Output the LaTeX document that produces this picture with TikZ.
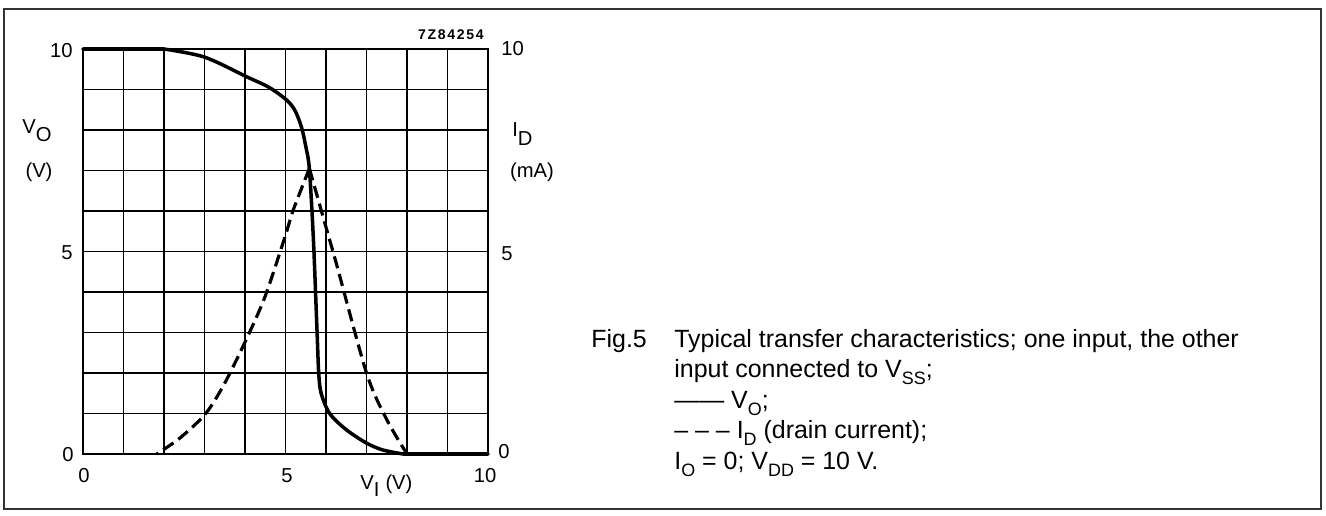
\documentclass[tikz,border=0pt]{standalone}
\usepackage{fontspec}
\setmainfont{Liberation Sans}
\newcommand\capsub[1]{\raisebox{-0.3em}{\fontsize{10.2}{10.2}\selectfont #1}}
\begin{document}
\begin{tikzpicture}[x=1cm,y=1cm,
  lbl/.style={font=\fontsize{11.5}{11.5}\selectfont, inner sep=0pt},
  captxt/.style={font=\fontsize{14.2}{14.2}\selectfont, inner sep=0pt, anchor=base west},
  gridline/.style={line width=0.75pt},
  curve/.style={line width=2pt, line join=round, line cap=round},
  dcurve/.style={line width=1.8pt, dash pattern=on 7pt off 3.4pt}]
\useasboundingbox (0,0) rectangle (26.52,10.3);
\draw[line width=0.8pt, black!80] (0.08,0.12) rectangle (26.42,10.12);
\begin{scope}[shift={(1.66,1.22)}, x=0.81cm, y=0.81cm]
  \foreach \i in {1,...,9} {
    \draw[gridline] (\i,0) -- (\i,10);
    \draw[gridline] (0,\i) -- (10,\i);
  }
  \draw[line width=1.4pt] (0,0) rectangle (10,10);
  % V_O curve
  \draw[curve] (0,10) -- (2,10) plot[smooth, tension=0.5] coordinates {(2.0,10) (3.0,9.8) (4.05,9.31) (4.6,9.05) (5.05,8.72) (5.25,8.45) (5.4,8.05) (5.5,7.6) (5.59,7.03) (5.69,5.28) (5.78,3.0) (5.82,2.0) (5.88,1.5) (6.09,1.0) (6.5,0.6) (7.0,0.27) (7.4,0.1) (7.9,0)} -- (10,0);
  % I_D curve
  \draw[dcurve] plot[smooth, tension=0.5] coordinates {(5.59,7.05) (5.19,6.02) (4.99,5.37) (4.5,3.9) (4.05,2.87) (3.5,1.75) (3.03,1.0) (2.4,0.4) (1.82,0)};
  \draw[dcurve] plot[smooth, tension=0.5] coordinates {(5.59,7.05) (6.0,5.6) (6.27,4.65) (7.0,2.0) (7.5,0.85) (8.0,0)};
\end{scope}
% axis labels
\node[lbl, anchor=east] (l10) at (1.46,9.28) {10};
\node[lbl, anchor=east] (l5) at (1.46,5.24) {5};
\node[lbl, anchor=east] (l0) at (1.48,1.20) {0};
\node[lbl, anchor=west] (r10) at (10.02,9.32) {10};
\node[lbl, anchor=west] (r5) at (10.02,5.22) {5};
\node[lbl, anchor=west] (r0) at (9.96,1.26) {0};
\node[lbl] (b0) at (1.68,0.78) {0};
\node[lbl] (b5) at (5.74,0.78) {5};
\node[lbl] (b10) at (9.70,0.78) {10};
\node[lbl, anchor=base west] (vi) at (7.2,0.52) {V\raisebox{-0.35em}{I}\hspace{0.3em}(V)};
\node[lbl, anchor=west] (vo) at (0.44,7.68) {V\raisebox{-0.4em}{O}};
\node[lbl] (vunit) at (0.78,6.86) {(V)};
\node[lbl, anchor=west] (id) at (10.24,7.62) {I\raisebox{-0.45em}{D}};
\node[lbl] (maunit) at (10.64,6.86) {(mA)};
\node[inner sep=0pt, anchor=east, font=\bfseries\fontsize{8}{8}\selectfont] (code) at (9.68,9.60) {7\hspace{0.12em}Z\hspace{0.12em}8\hspace{0.12em}4\hspace{0.12em}2\hspace{0.12em}5\hspace{0.12em}4};
% caption
\node[captxt] (fig) at (11.82,3.36) {Fig.5};
\node[captxt] (c1) at (13.48,3.36) {Typical transfer characteristics; one input, the other};
\node[captxt] (c2) at (13.48,2.76) {input connected to V\capsub{SS};};
\node[captxt] (c3) at (13.48,2.14) {—— V\capsub{O};};
\node[captxt] (c4) at (13.48,1.54) {– – – I\capsub{D} (drain current);};
\node[captxt] (c5) at (13.48,0.92) {I\capsub{O} = 0; V\capsub{DD} = 10 V.};
\end{tikzpicture}
\end{document}
